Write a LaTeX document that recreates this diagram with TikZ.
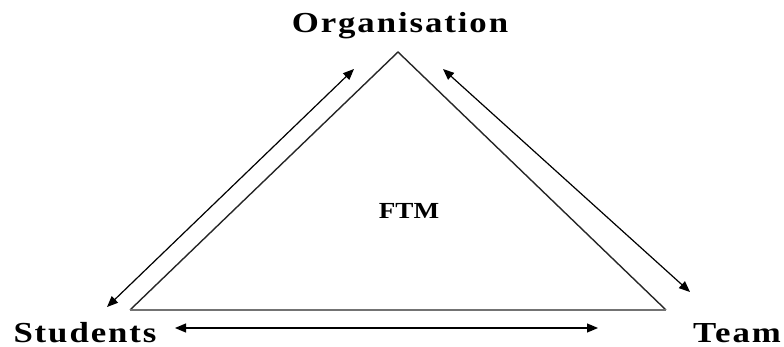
\documentclass[tikz,border=0pt]{standalone}
\usepackage{fontspec}
\usepackage{graphicx}
\usetikzlibrary{arrows.meta}
\setmainfont{Liberation Serif}
\newfontfamily\lblfont[LetterSpace=5.5]{Liberation Serif}
\newcommand{\widelabel}[1]{\scalebox{1.2}[1]{\lblfont\bfseries #1}}
\begin{document}
\begin{tikzpicture}[x=1pt,y=-1pt,
  corner/.style={font=\fontsize{29}{29}\selectfont, inner sep=0pt, anchor=base},
  side/.style={draw=black!85, line width=1.4pt},
  base/.style={draw=black!55, line width=2.6pt},
  twoway/.style={draw=black, line width=1.2pt,
    {Triangle[length=11pt,width=9pt]}-{Triangle[length=11pt,width=9pt]}}]
  \useasboundingbox (0,0) rectangle (784,347);
  % triangle corners
  \coordinate (apex) at (398,52);
  \coordinate (bl) at (130,310);
  \coordinate (br) at (666,310);
  \draw[side] (bl) -- (apex) -- (br);
  \draw[base] (bl) -- (br);
  % labels
  \node[corner] (org) at (400,33) {\widelabel{Organisation}};
  \node[corner] (stu) at (85,342) {\widelabel{Students}};
  \node[corner] (team) at (737,342) {\widelabel{Team}};
  \node[inner sep=0pt, anchor=base] (ftm) at (409,219)
    {\scalebox{1.18}[1]{\fontsize{23}{23}\selectfont\bfseries FTM}};
  % two-way arrows along the sides
  \coordinate (la) at (107,307);
  \coordinate (lb) at (354,69);
  \coordinate (ra) at (443,69);
  \coordinate (rb) at (690,292);
  \coordinate (ba) at (175,328);
  \coordinate (bb) at (598,328);
  \draw[twoway] (la) -- (lb);
  \draw[twoway] (ra) -- (rb);
  \draw[twoway] (ba) -- (bb);
\end{tikzpicture}
\end{document}
